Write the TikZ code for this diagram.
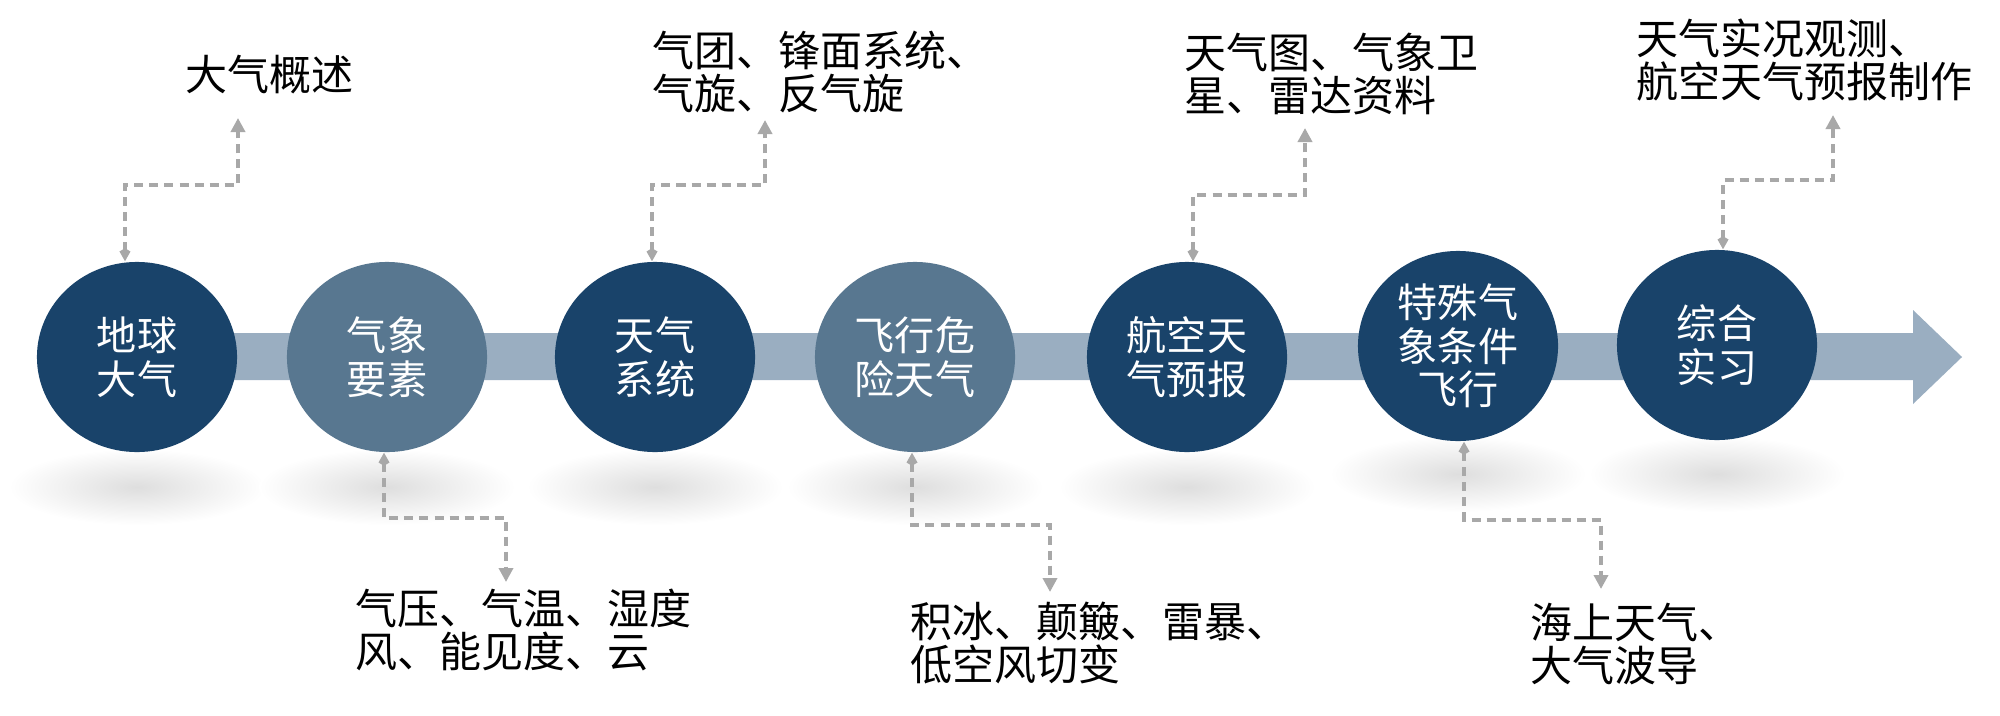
\documentclass[tikz,border=0pt]{standalone}
\usepackage{fontspec}
\setmainfont{Noto Sans CJK SC}
\usetikzlibrary{arrows.meta,shapes.geometric}
\definecolor{navy}{RGB}{25,67,106}
\definecolor{slate}{RGB}{88,119,144}
\definecolor{barc}{RGB}{154,174,193}
\definecolor{dashc}{RGB}{168,168,168}
\tikzset{
  ball/.style={ellipse, fill=navy, minimum width=2cm, minimum height=1.9cm, inner sep=0pt,
    text=white, align=center, font=\fontsize{11.4pt}{12.4pt}\selectfont},
  lightball/.style={ball, fill=slate},
  lab/.style={align=left, inner sep=0pt, anchor=west, font=\fontsize{11.95pt}{12.3pt}\selectfont},
  conn/.style={draw=dashc, line width=0.04cm, dash pattern=on 0.09cm off 0.06cm,
    arrows={Kite[length=0.13cm,width=0.11cm]-Triangle[length=0.14cm,width=0.14cm]}},
  shadowshade/.style={inner color=black!13, outer color=white}
}
\begin{document}
\begin{tikzpicture}[x=0.01cm,y=-0.01cm]
\fill[white] (0,0) rectangle (2000,715);
\useasboundingbox (0,0) rectangle (2000,715);
% soft shadows
\foreach \sx/\sy in {137/487,387/487,655/487,915/487,1187/487,1458/474,1717/474}
  \shade[shadowshade] (\sx,\sy) ellipse [x radius=1.28cm, y radius=0.38cm];
% timeline bar with arrow head
\fill[barc] (137,333) -- (1913,333) -- (1913,310) -- (1962,357) -- (1913,404) -- (1913,380) -- (137,380) -- cycle;
% circles
\node[ball] (c1) at (137,357) {地球\\大气};
\node[lightball] (c2) at (387,357) {气象\\要素};
\node[ball] (c3) at (655,357) {天气\\系统};
\node[lightball] (c4) at (915,357) {飞行危\\险天气};
\node[ball] (c5) at (1187,357) {航空天\\气预报};
\node[ball] (c6) at (1458,346) {特殊气\\象条件\\飞行};
\node[ball] (c7) at (1717,345) {综合\\实习};
% labels
\node[lab] (t1) at (185,75) {大气概述};
\node[lab] (t2) at (355,630) {气压、气温、湿度\\风、能见度、云};
\node[lab] (t3) at (652,72) {气团、锋面系统、\\气旋、反气旋};
\node[lab] (t4) at (910,643) {积冰、颠簸、雷暴、\\低空风切变};
\node[lab] (t5) at (1184,74) {天气图、气象卫\\星、雷达资料};
\node[lab] (t6) at (1530,644) {海上天气、\\大气波导};
\node[lab] (t7) at (1636,60) {天气实况观测、\\航空天气预报制作};
% elbow and end coordinates
\coordinate (e1) at (238,185);  \coordinate (p1) at (238,118);
\coordinate (e2) at (506,518);  \coordinate (p2) at (506,582);
\coordinate (e3) at (765,185);  \coordinate (p3) at (765,120);
\coordinate (e4) at (1050,525); \coordinate (p4) at (1050,592);
\coordinate (e5) at (1305,195); \coordinate (p5) at (1305,128);
\coordinate (e6) at (1601,520); \coordinate (p6) at (1601,589);
\coordinate (e7) at (1833,180); \coordinate (p7) at (1833,115);
% connectors
\draw[conn] ([xshift=-0.12cm]c1.north) |- (e1) -- (p1);
\draw[conn] ([xshift=-0.03cm]c2.south) |- (e2) -- (p2);
\draw[conn] ([xshift=-0.03cm]c3.north) |- (e3) -- (p3);
\draw[conn] ([xshift=-0.03cm]c4.south) |- (e4) -- (p4);
\draw[conn] ([xshift=0.06cm]c5.north) |- (e5) -- (p5);
\draw[conn] ([xshift=0.06cm]c6.south) |- (e6) -- (p6);
\draw[conn] ([xshift=0.06cm]c7.north) |- (e7) -- (p7);
\end{tikzpicture}
\end{document}
